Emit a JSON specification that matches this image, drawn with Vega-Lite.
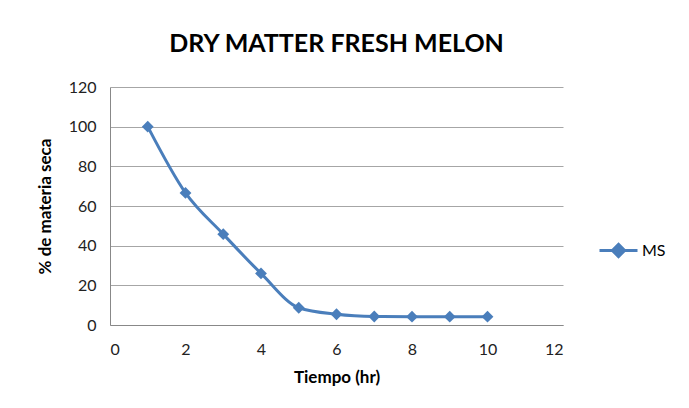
{
  "$schema": "https://vega.github.io/schema/vega-lite/v6.json",
  "width": 453,
  "height": 238,
  "autosize": {"type": "none"},
  "padding": {"left": 110, "top": 87, "right": 126, "bottom": 83},
  "background": "white",
  "title": {
    "text": "DRY MATTER FRESH MELON",
    "font": "Lato",
    "fontSize": 25,
    "fontWeight": "bold",
    "color": "#000000",
    "anchor": "middle",
    "offset": 22
  },
  "config": {
    "view": {"stroke": null},
    "font": "Lato",
    "axis": {
      "labelFont": "Lato",
      "labelFontSize": 16,
      "labelColor": "#222222",
      "titleFont": "Lato",
      "titleFontSize": 17,
      "titleFontWeight": "bold",
      "titleColor": "#000000",
      "domainColor": "#888888",
      "gridColor": "#A6A6A6",
      "ticks": false
    }
  },
  "data": {
    "values": [
      {"t": 1, "ms": 100, "series": "MS"},
      {"t": 2, "ms": 66.6, "series": "MS"},
      {"t": 3, "ms": 45.8, "series": "MS"},
      {"t": 4, "ms": 26.0, "series": "MS"},
      {"t": 5, "ms": 8.7, "series": "MS"},
      {"t": 6, "ms": 5.4, "series": "MS"},
      {"t": 7, "ms": 4.3, "series": "MS"},
      {"t": 8, "ms": 4.2, "series": "MS"},
      {"t": 9, "ms": 4.2, "series": "MS"},
      {"t": 10, "ms": 4.2, "series": "MS"}
    ]
  },
  "encoding": {
    "x": {
      "field": "t",
      "type": "quantitative",
      "scale": {"domain": [0, 12], "nice": false},
      "axis": {
        "title": "Tiempo (hr)",
        "values": [0, 2, 4, 6, 8, 10, 12],
        "grid": false,
        "labelPadding": 16,
        "titlePadding": 12
      }
    },
    "y": {
      "field": "ms",
      "type": "quantitative",
      "scale": {"domain": [0, 120], "nice": false},
      "axis": {
        "title": "% de materia seca",
        "values": [0, 20, 40, 60, 80, 100, 120],
        "grid": true,
        "labelPadding": 14,
        "titlePadding": 14
      }
    }
  },
  "layer": [
    {
      "mark": {"type": "line", "interpolate": "monotone", "color": "#4A7EBB", "strokeWidth": 3}
    },
    {
      "mark": {"type": "point", "shape": "diamond", "filled": true, "size": 140, "opacity": 1},
      "encoding": {
        "color": {
          "field": "series",
          "type": "nominal",
          "scale": {"range": ["#4A7EBB"]},
          "legend": {
            "title": null,
            "orient": "none",
            "legendX": 488,
            "legendY": 143,
            "labelFont": "Lato",
            "labelFontSize": 16,
            "labelColor": "#000000",
            "symbolType": "M-1,0L1,0M0,-0.32L0.32,0L0,0.32L-0.32,0Z",
            "symbolSize": 1444,
            "symbolStrokeWidth": 3,
            "symbolStrokeColor": "#4A7EBB",
            "labelOffset": 3,
            "encode": {
              "symbols": {
                "update": {
                  "shape": {"value": "M-1,0L1,0M0,-0.32L0.32,0L0,0.32L-0.32,0Z"},
                  "size": {"value": 1444},
                  "fill": {"value": "#4A7EBB"},
                  "stroke": {"value": "#4A7EBB"},
                  "strokeWidth": {"value": 3},
                  "strokeOpacity": {"value": 1},
                  "fillOpacity": {"value": 1},
                  "opacity": {"value": 1}
                }
              }
            }
          }
        }
      }
    }
  ]
}
